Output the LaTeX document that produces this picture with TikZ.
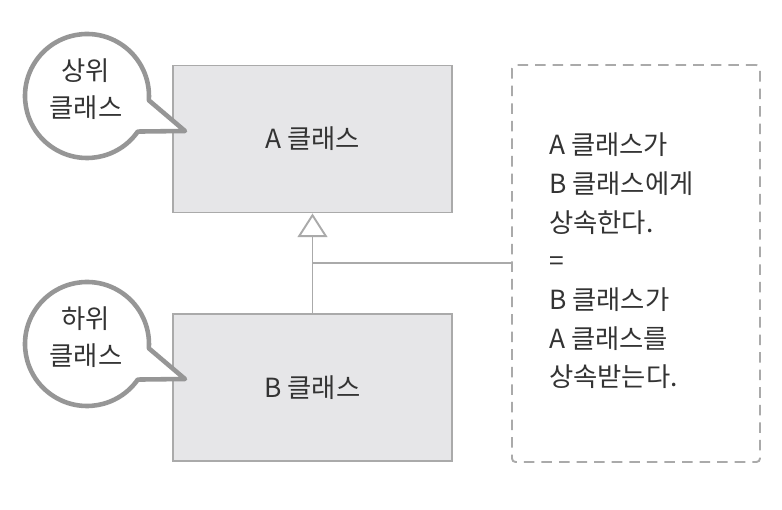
\documentclass[tikz,border=0pt]{standalone}
\usepackage{fontspec}
\setmainfont{Noto Sans CJK KR}
\usetikzlibrary{arrows.meta, positioning, calc}
\definecolor{boxfill}{RGB}{230,230,232}
\definecolor{boxline}{RGB}{170,170,170}
\definecolor{bubbleline}{RGB}{150,150,150}
\definecolor{textgray}{RGB}{51,51,51}

\begin{document}
\begin{tikzpicture}[x=0.02cm, y=0.02cm,
    classbox/.style={draw=boxline, fill=boxfill, line width=1.1pt,
      minimum width=279*0.02cm, minimum height=147*0.02cm,
      font=\fontsize{15pt}{22pt}\selectfont, text=textgray},
    bubble/.style={draw=bubbleline, fill=white, line width=2.6pt, line join=round},
    bubbletext/.style={align=center, font=\fontsize{15pt}{21pt}\selectfont, text=textgray},
    inherit/.style={draw=boxline, line width=1.1pt,
      -{Triangle[open, width=17pt, length=13.5pt, line width=1.1pt]}},
    notebox/.style={draw=boxline, dashed, line width=1.1pt, rounded corners=2pt,
      dash pattern=on 6pt off 4pt,
      minimum width=248*0.02cm, minimum height=397*0.02cm}]
    \useasboundingbox (0,0) rectangle (782,510);

    % classes
    \node[classbox] (classA) at (312.5,371) {A 클래스};
    \node[classbox] (classB) at (312.5,122.5) {B 클래스};
    \draw[inherit] (classB) -- (classA);

    % note
    \node[notebox] (note) at (636,246.5) {};
    \node[anchor=west, align=left, text=textgray,
      font=\fontsize{15pt}{22pt}\selectfont] (noteText) at (543,249)
      {A 클래스가\\B 클래스에게\\상속한다.\\=\\B 클래스가\\A 클래스를\\상속받는다.};
    \coordinate (joint) at (classA.south |- 0,247);
    \draw[draw=boxline, line width=1.1pt] (joint) -- (note.west |- joint);

    % callouts
    \coordinate (superC) at (87,414);
    \coordinate (superTip) at (185,379);
    \draw[bubble] ($(superC)+(-4:62)$) -- (superTip) -- ($(superC)+(-35:62)$)
      arc[start angle=-35, end angle=-364, radius=62] -- cycle;
    \node[bubbletext] (superLabel) at (86,421) {상위\\클래스};

    \coordinate (subC) at (87,166);
    \coordinate (subTip) at (185,131);
    \draw[bubble] ($(subC)+(-4:62)$) -- (subTip) -- ($(subC)+(-35:62)$)
      arc[start angle=-35, end angle=-364, radius=62] -- cycle;
    \node[bubbletext] (subLabel) at (86,173) {하위\\클래스};
\end{tikzpicture}
\end{document}
